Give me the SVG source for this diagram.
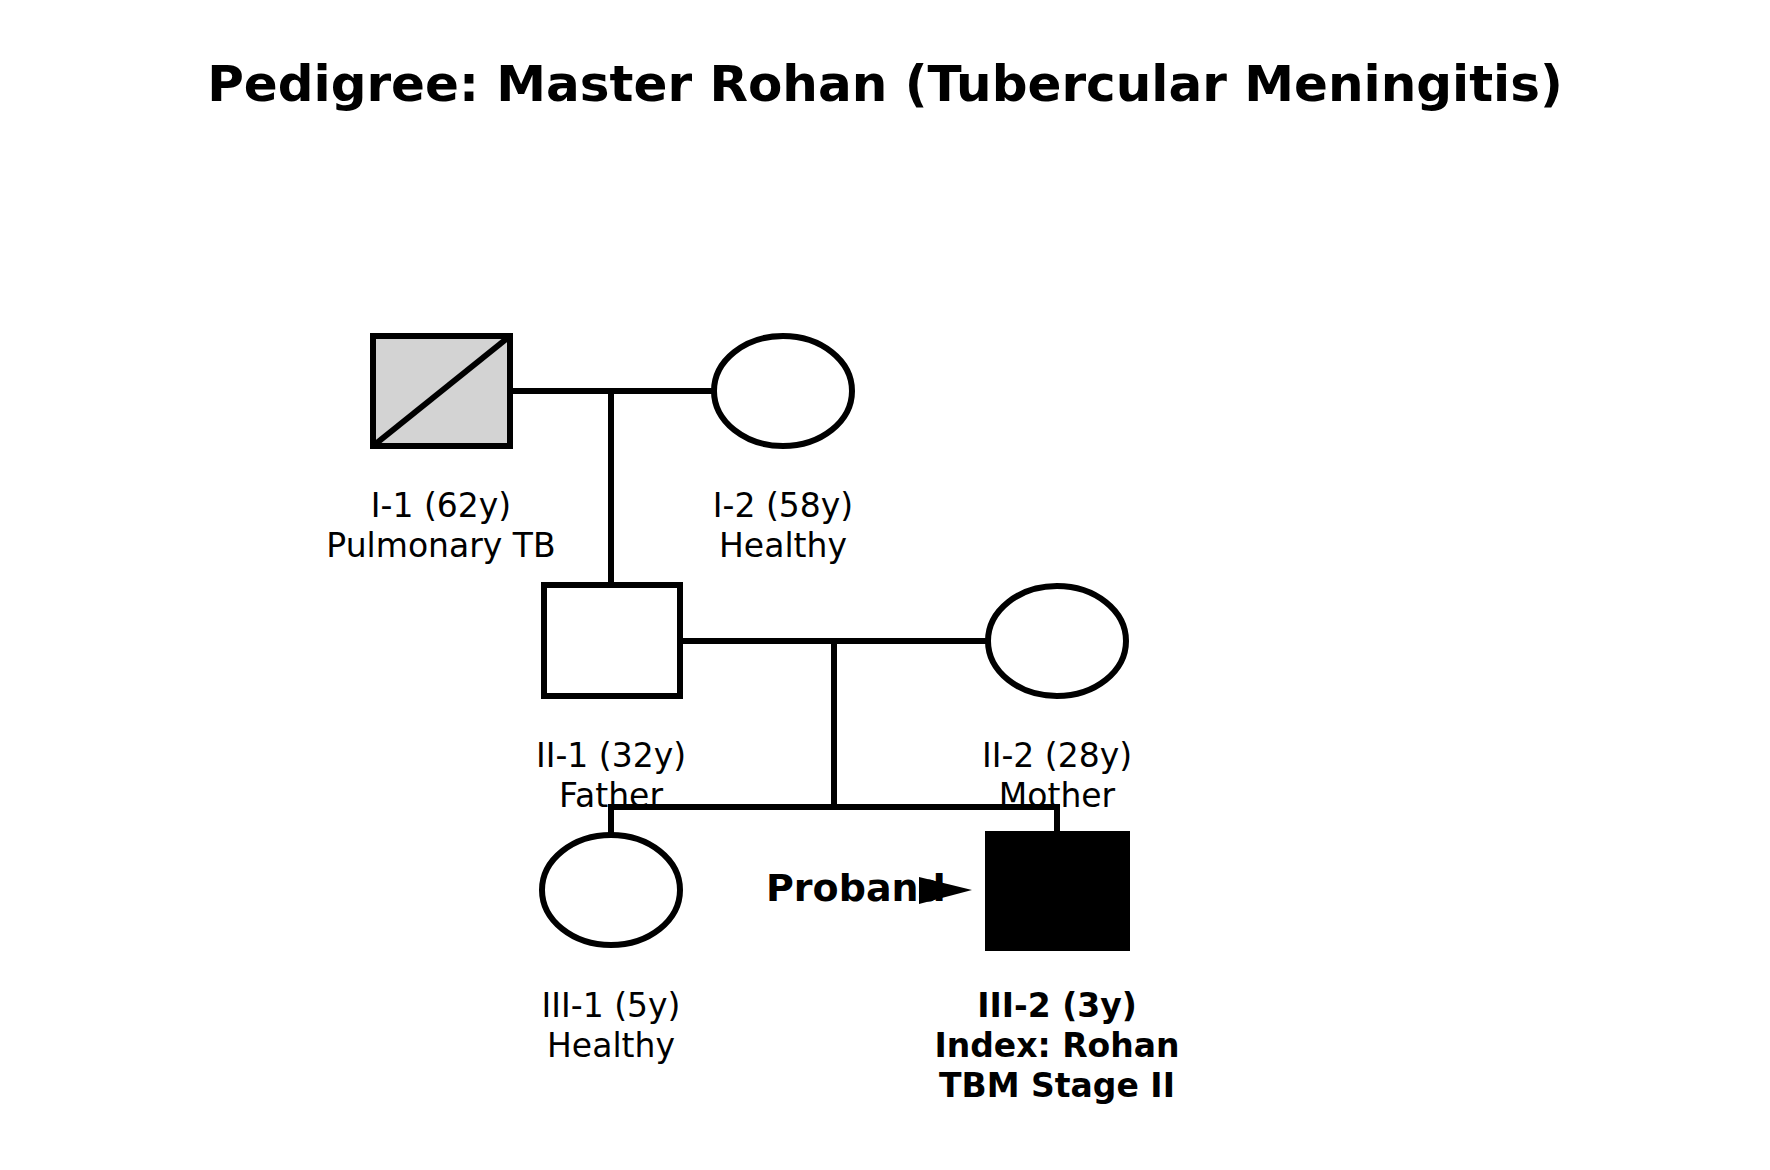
<svg xmlns="http://www.w3.org/2000/svg" width="1770" height="1170" viewBox="0 0 1770 1170">
<style>
text{font-family:"DejaVu Sans",sans-serif;fill:#000;text-anchor:middle}
.l{font-size:33px}
.b{font-size:33px;font-weight:bold}
.s{stroke:#000;stroke-width:6;fill:#fff}
.c line,.c polyline{stroke:#000;stroke-width:6;fill:none}
</style>
<rect width="1770" height="1170" fill="#fff"/>
<text x="885" y="101" style="font-size:50px;font-weight:bold">Pedigree: Master Rohan (Tubercular Meningitis)</text>
<g class="c" id="connectors">
<line x1="510" y1="391" x2="714" y2="391"/>
<line x1="611" y1="391" x2="611" y2="585"/>
<line x1="680" y1="641" x2="988" y2="641"/>
<line x1="834" y1="641" x2="834" y2="807"/>
<polyline points="611,834 611,807 1057,807 1057,834"/>
</g>
<g id="I-1"><rect x="373" y="336" width="137" height="110" class="s" style="fill:#d3d3d3"/><line x1="373" y1="446" x2="510" y2="336" stroke="#000" stroke-width="6"/>
<text class="l" x="441" y="517">I-1 (62y)</text><text class="l" x="441" y="557">Pulmonary TB</text></g>
<g id="I-2"><ellipse cx="783" cy="391" rx="69" ry="55" class="s"/>
<text class="l" x="783" y="517">I-2 (58y)</text><text class="l" x="783" y="557">Healthy</text></g>
<g id="II-1"><rect x="544" y="585" width="136" height="111" class="s"/>
<text class="l" x="611" y="767">II-1 (32y)</text><text class="l" x="611" y="807">Father</text></g>
<g id="II-2"><ellipse cx="1057" cy="641" rx="69" ry="55" class="s"/>
<text class="l" x="1057" y="767">II-2 (28y)</text><text class="l" x="1057" y="807">Mother</text></g>
<g id="III-1"><ellipse cx="611" cy="890" rx="69" ry="55" class="s"/>
<text class="l" x="611" y="1017">III-1 (5y)</text><text class="l" x="611" y="1057">Healthy</text></g>
<g id="III-2"><rect x="988" y="834" width="139" height="114" stroke="#000" stroke-width="6" fill="#000"/>
<text class="b" x="1057" y="1017">III-2 (3y)</text><text class="b" x="1057" y="1057">Index: Rohan</text><text class="b" x="1057" y="1097">TBM Stage II</text></g>
<g id="proband"><text x="766" y="901" style="font-size:38px;font-weight:bold;text-anchor:start">Proband</text>
<polygon points="919,877 972,890 919,904" fill="#000"/></g>
</svg>
